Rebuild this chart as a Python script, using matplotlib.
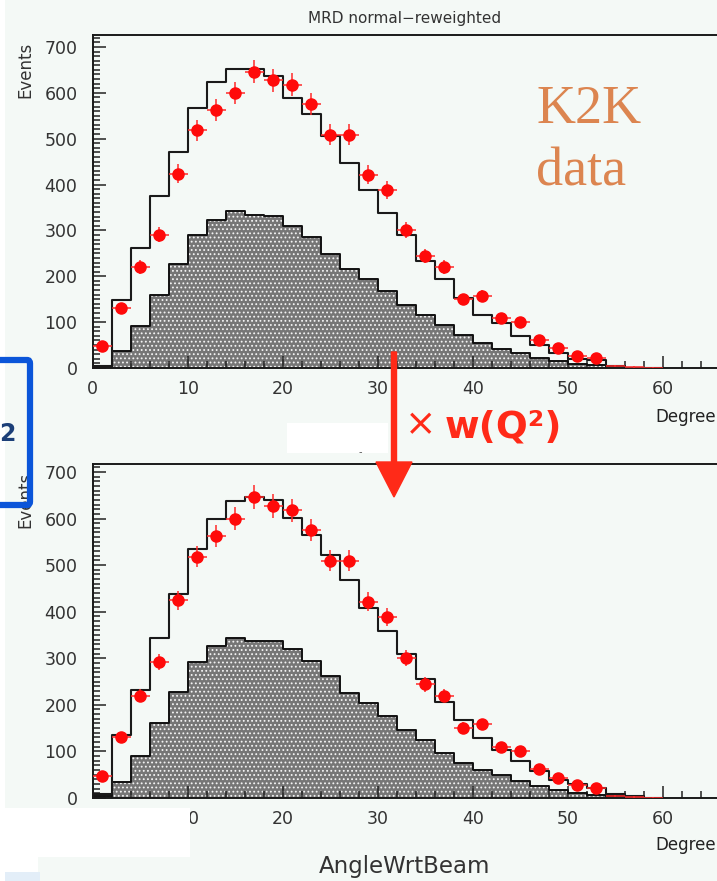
import numpy as np
import matplotlib
matplotlib.use("Agg")
import matplotlib.pyplot as plt
from matplotlib.patches import FancyBboxPatch, Rectangle, FancyArrow
from matplotlib.ticker import MultipleLocator

# bin edges (degrees), 2-degree bins
edges = np.arange(0, 62, 2)
centers = edges[:-1] + 1

# K2K data (same in both panels)
data = [47, 130, 220, 291, 424, 518, 563, 600, 646, 627, 618, 575, 509, 509,
        421, 388, 300, 244, 220, 150, 158, 109, 101, 62, 44, 27, 22, 4, 2, 1]

# MC total, normal (top) and Q2-reweighted (bottom)
mc_top = [5, 149, 262, 374, 472, 566, 623, 652, 652, 637, 589, 554, 505, 447,
          389, 338, 291, 233, 193, 153, 116, 98, 69, 51, 33, 20, 17, 4, 0, 0]
mc_bot = [9, 136, 231, 343, 439, 534, 599, 637, 646, 639, 601, 564, 521, 468,
          407, 359, 309, 256, 207, 168, 129, 104, 79, 57, 39, 29, 21, 9, 5, 0]

# hatched component
sub_top = [2, 36, 92, 160, 227, 290, 322, 343, 334, 331, 310, 285, 249, 216,
           193, 167, 138, 116, 94, 73, 55, 41, 33, 22, 15, 9, 6, 4, 0, 0]
sub_bot = [5, 34, 91, 162, 227, 291, 326, 343, 338, 338, 319, 295, 262, 226,
           204, 176, 146, 125, 96, 76, 61, 50, 36, 25, 18, 11, 7, 5, 0, 0]

xticks = [0, 10, 20, 30, 40, 50, 60]

BG = "#f4f9f6"
W, H = 717, 881
plt.rcParams["hatch.linewidth"] = 0.8


def fx(px):
    return px / W


def fy(py):
    return 1 - py / H


def draw_panel(ax, mc, sub, ymax):
    ax.set_facecolor(BG)
    mc = np.array(mc, dtype=float)
    sub = np.array(sub, dtype=float)
    d = np.array(data, dtype=float)

    sub_s = np.append(sub, sub[-1])
    mc_s = np.append(mc, mc[-1])
    ax.fill_between(edges, 0, sub_s, step="post", facecolor="#767676",
                    edgecolor="#f4f4f4", hatch="....", linewidth=0, zorder=1)
    ax.step(edges, sub_s, where="post", color="#111111", lw=1.4, zorder=2)
    ax.step(edges, mc_s, where="post", color="#1a1a1a", lw=1.5, zorder=2)

    big = d >= 10
    ax.errorbar(centers, d, xerr=1, yerr=np.sqrt(d), fmt="none",
                ecolor="#ff2a2a", elinewidth=1.1, capsize=0, zorder=3)
    ax.plot(centers[big], d[big], "o", color="#ff0a0a", ms=8,
            mec="#ff0a0a", zorder=4)

    ax.set_xlim(0, 70)
    ax.set_ylim(0, ymax)
    ax.set_xticks(xticks)
    ax.xaxis.set_minor_locator(MultipleLocator(2))
    ax.yaxis.set_major_locator(MultipleLocator(100))
    ax.yaxis.set_minor_locator(MultipleLocator(10))
    ax.tick_params(which="both", direction="in", colors="#222222",
                   labelcolor="#333333", labelsize=12.5, width=1.1)
    ax.tick_params(which="major", length=9)
    ax.tick_params(which="minor", length=5)
    ax.tick_params(axis="y", pad=11)
    ax.tick_params(axis="x", pad=9)
    for s in ax.spines.values():
        s.set_color("#1a1a1a")
        s.set_linewidth(1.4)


fig = plt.figure(figsize=(W / 100, H / 100), dpi=100)
fig.patch.set_facecolor(BG)

# white strip at the far left
fig.patches.append(Rectangle((0, 0), fx(5), 1, transform=fig.transFigure,
                             facecolor="white", edgecolor="none", zorder=0))

ax1 = fig.add_axes([fx(92.7), fy(368), fx(665), (368 - 35) / H])
draw_panel(ax1, mc_top, sub_top, 726)
ax2 = fig.add_axes([fx(92.7), fy(798), fx(665), (798 - 464) / H])
draw_panel(ax2, mc_bot, sub_bot, 717)

# labels
fig.text(fx(405), fy(19), "MRD normal\u2212reweighted", ha="center",
         va="center", fontsize=11, color="#333333")
for yc in (70, 500):
    fig.text(fx(25), fy(yc), "Events", rotation=90, ha="center", va="center",
             fontsize=12, color="#333333")
for yc in (417, 845):
    fig.text(fx(716), fy(yc), "Degree", ha="right", va="center",
             fontsize=12, color="#222222")
fig.text(fx(405), fy(866), "AngleWrtBeam", ha="center", va="center",
         fontsize=16.5, color="#333333")

# K2K data annotation
fig.text(fx(536), fy(123), "K2K", ha="left", va="baseline",
         fontsize=39, color="#dc8550", family="Liberation Serif")
fig.text(fx(536), fy(185), "data", ha="left", va="baseline",
         fontsize=39, color="#dc8550", family="Liberation Serif")

# white cover patches
fig.patches.append(Rectangle((fx(287), fy(453)), fx(101), 30 / H,
                             transform=fig.transFigure, facecolor="white",
                             edgecolor="none", zorder=5))
fig.text(fx(360), fy(452), "-", ha="center", va="center", fontsize=7,
         color="#555555", zorder=6)
fig.patches.append(Rectangle((fx(5), fy(857)), fx(185), 49 / H,
                             transform=fig.transFigure, facecolor="white",
                             edgecolor="none", zorder=5))
fig.patches.append(Rectangle((fx(5), fy(872)), fx(33), 16 / H,
                             transform=fig.transFigure, facecolor="white",
                             edgecolor="none", zorder=5))
fig.patches.append(Rectangle((fx(5), 0), fx(35), 9 / H,
                             transform=fig.transFigure, facecolor="#e3eef8",
                             edgecolor="none", zorder=5))

# reweighting arrow
fig.patches.append(FancyArrow(
    fx(394), fy(352), 0, -(497 - 352) / H, width=fx(5),
    head_width=fx(36), head_length=35 / H, length_includes_head=True,
    transform=fig.transFigure, color="#ff2a18", zorder=7))
fig.text(fx(405), fy(425), "\u00d7", ha="left", va="center",
         fontsize=27, color="#ff2a18", zorder=7)
fig.text(fx(445), fy(427), "w(Q\u00b2)", ha="left", va="center",
         fontsize=27, fontweight="bold", color="#ff2a18", zorder=7)

# blue box at left edge
fig.patches.append(FancyBboxPatch((fx(-20), fy(505)), fx(50), (505 - 360) / H,
                                  boxstyle="round,pad=0,rounding_size=0.004",
                                  transform=fig.transFigure, facecolor="none",
                                  edgecolor="#0b55d9", linewidth=4.5, zorder=8))
fig.text(fx(-1), fy(434), "2", ha="left", va="center", fontsize=17,
         fontweight="bold", color="#1c3f78", zorder=8)

fig.savefig("out.png", dpi=100, facecolor=BG)
